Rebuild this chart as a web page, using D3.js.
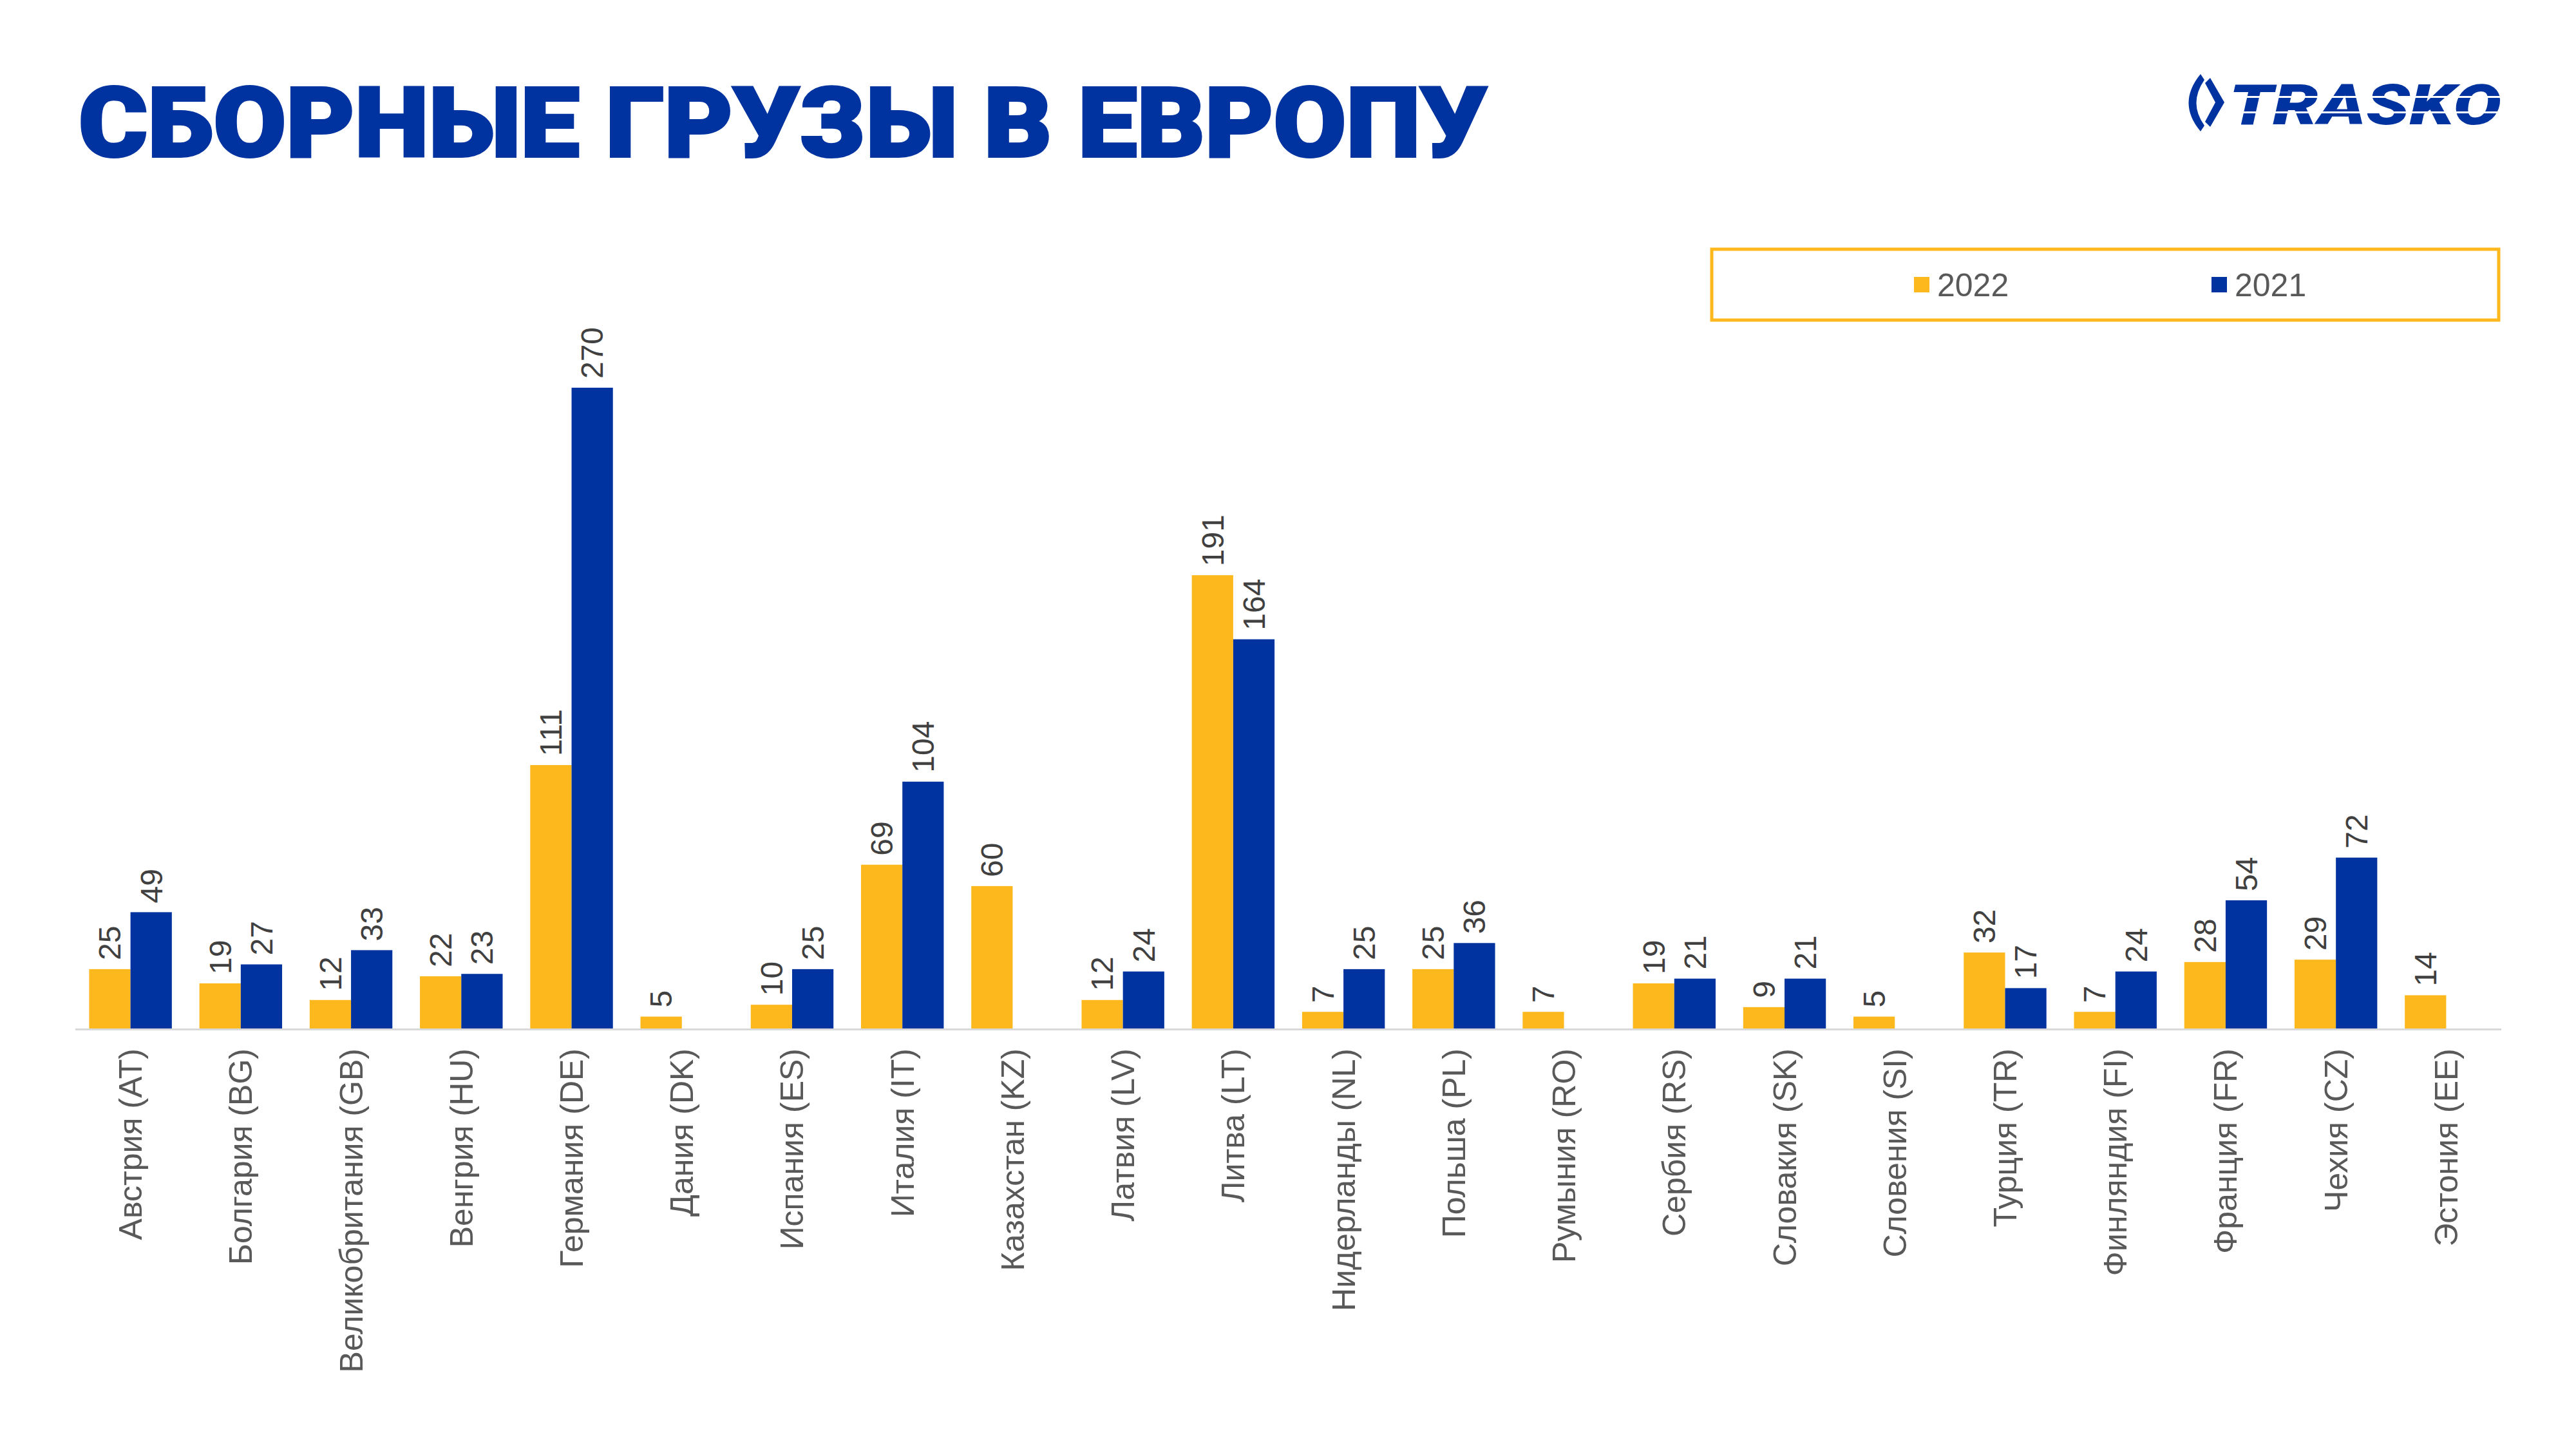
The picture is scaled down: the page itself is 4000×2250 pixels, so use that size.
<!DOCTYPE html>
<html><head><meta charset="utf-8">
<script src="https://cdn.jsdelivr.net/npm/d3@7"></script>
<style>html,body{margin:0;padding:0;background:#fff;}</style>
</head><body>
<script>
const categories = ["Австрия (AT)","Болгария (BG)","Великобритания (GB)","Венгрия (HU)","Германия (DE)","Дания (DK)","Испания (ES)","Италия (IT)","Казахстан (KZ)","Латвия (LV)","Литва (LT)","Нидерланды (NL)","Польша (PL)","Румыния (RO)","Сербия (RS)","Словакия (SK)","Словения (SI)","Турция (TR)","Финляндия (FI)","Франция (FR)","Чехия (CZ)","Эстония (EE)"];
const values2022 = [25,19,12,22,111,5,10,69,60,12,191,7,25,7,19,9,5,32,7,28,29,14];
const values2021 = [49,27,33,23,270,null,25,104,null,24,164,25,36,null,21,21,null,17,24,54,72,null];
const seriesNames = ["2022","2021"];
const seriesColors = ["#FDB81E","#0033A0"];
const titleText = "СБОРНЫЕ ГРУЗЫ В ЕВРОПУ";

const W = 4000, H = 2250;
const svg = d3.select("body").append("svg").attr("width", W).attr("height", H)
  .style("font-family", "'Liberation Sans', Arial, sans-serif");
svg.append("rect").attr("width", W).attr("height", H).attr("fill", "#fff");

// Title
svg.append("text").attr("x", 122).attr("y", 243)
  .attr("font-family", "Roboto, Inter, 'DejaVu Sans', sans-serif")
  .attr("font-weight", 900).attr("font-size", 150)
  .attr("fill", "#0033A0").attr("stroke", "#0033A0").attr("stroke-width", 4)
  .attr("textLength", 2187).attr("lengthAdjust", "spacingAndGlyphs")
  .text(titleText);

// Logo
const logo = svg.append("g");
logo.append("path").attr("fill", "#0033A0")
  .attr("d", "M3417,115 Q3380,160 3417,204 L3423,195 Q3398,160 3423,124 Z");
logo.append("path").attr("fill", "#0033A0")
  .attr("d", "M3432,121 L3454,159 L3432,197 L3424,189 L3440,159 L3424,129 Z");
logo.append("text").attr("x", 3461).attr("y", 193)
  .attr("font-family", "Roboto, Inter, 'DejaVu Sans', sans-serif")
  .attr("font-weight", 900).attr("font-style", "italic").attr("font-size", 86)
  .attr("fill", "#0033A0").attr("textLength", 423).attr("lengthAdjust", "spacingAndGlyphs")
  .text("TRASKO");
logo.append("rect").attr("x", 3455).attr("y", 149).attr("width", 440).attr("height", 3).attr("fill", "#fff");
logo.append("rect").attr("x", 3455).attr("y", 173).attr("width", 440).attr("height", 3).attr("fill", "#fff");

// Scales
const x0 = d3.scaleBand().domain(categories).range([117, 3884]).paddingInner(0.25).paddingOuter(0.125);
const x1 = d3.scaleBand().domain(seriesNames).range([0, x0.bandwidth()]);
const y = d3.scaleLinear().domain([0, 300]).range([1597, 491.5]);

const data = categories.map((c, i) => ({cat: c, vals: [values2022[i], values2021[i]]}));

const groups = svg.append("g").selectAll("g").data(data).join("g")
  .attr("transform", d => `translate(${x0(d.cat)},0)`);

groups.selectAll("rect").data(d => d.vals.map((v, k) => ({v, k})).filter(e => e.v != null))
  .join("rect")
  .attr("x", e => x1(seriesNames[e.k]))
  .attr("width", x1.bandwidth())
  .attr("y", e => y(e.v))
  .attr("height", e => y(0) - y(e.v))
  .attr("fill", e => seriesColors[e.k]);

groups.selectAll("text.val").data(d => d.vals.map((v, k) => ({v, k})).filter(e => e.v != null))
  .join("text").attr("class", "val")
  .attr("transform", e => `translate(${x1(seriesNames[e.k]) + x1.bandwidth()/2},${y(e.v) - 14}) rotate(-90)`)
  .attr("dy", "0.35em")
  .attr("text-anchor", "start")
  .attr("font-size", 48).attr("fill", "#404040")
  .text(e => e.v);

// Axis line
svg.append("line").attr("x1", 117).attr("x2", 3884).attr("y1", y(0) + 1.5).attr("y2", y(0) + 1.5)
  .attr("stroke", "#D9D9D9").attr("stroke-width", 3);

// Category labels
svg.append("g").selectAll("text").data(categories).join("text")
  .attr("transform", c => `translate(${x0(c) + x0.bandwidth()/2},1628) rotate(-90)`)
  .attr("dy", "0.35em").attr("text-anchor", "end")
  .attr("font-size", 50).attr("fill", "#595959")
  .text(c => c);

// Legend
svg.append("rect").attr("x", 2658).attr("y", 387).attr("width", 1222).attr("height", 110)
  .attr("fill", "#fff").attr("stroke", "#FDB81E").attr("stroke-width", 5);
const legX = [2972, 3434];
const leg = svg.append("g").selectAll("g").data(seriesNames).join("g")
  .attr("transform", (d, i) => `translate(${legX[i]},0)`);
leg.append("rect").attr("x", 0).attr("y", 430).attr("width", 24).attr("height", 24)
  .attr("fill", (d, i) => seriesColors[i]);
leg.append("text").attr("x", 36).attr("y", 460).attr("font-size", 50).attr("fill", "#595959")
  .text(d => d);
</script>
</body></html>
